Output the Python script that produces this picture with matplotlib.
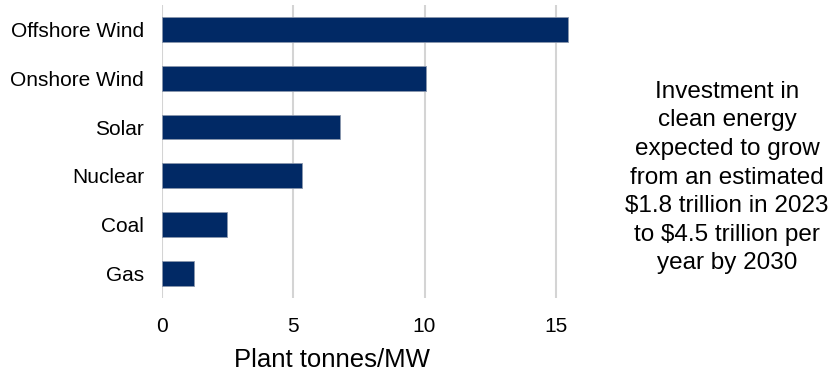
import matplotlib
matplotlib.use("Agg")
import matplotlib.pyplot as plt

plt.rcParams['font.family'] = ['Liberation Sans', 'DejaVu Sans']

categories = ["Offshore Wind", "Onshore Wind", "Solar", "Nuclear", "Coal", "Gas"]
values = [15.47, 10.07, 6.77, 5.32, 2.49, 1.22]
xticks = [0, 5, 10, 15]
xlabel = "Plant tonnes/MW"
note = ("Investment in\nclean energy\nexpected to grow\nfrom an estimated\n"
        "$1.8 trillion in 2023\nto $4.5 trillion per\nyear by 2030")

fig = plt.figure(figsize=(8.34, 3.73), dpi=100)
ax = fig.add_axes([162 / 834, 1 - 297.5 / 373, 420 / 834, 292.2 / 373])

pos = list(range(len(categories)))
ax.barh(pos, values, height=0.51, color="#012965", edgecolor="#8a97ad",
        linewidth=0.6, zorder=3)
ax.set_ylim(len(categories) - 0.5, -0.5)
ax.set_xlim(0, 16)
ax.set_xticks(xticks)
ax.set_xticklabels([str(t) for t in xticks])
ax.set_yticks(pos)
ax.set_yticklabels(categories)
ax.tick_params(axis="both", length=0, labelsize=15, colors="#000000")
ax.tick_params(axis="x", pad=14)
ax.tick_params(axis="y", pad=13)
ax.grid(axis="x", color="#d4d4d4", linewidth=1.5, zorder=0)
for s in ax.spines.values():
    s.set_visible(False)
ax.set_xlabel(xlabel, fontsize=18.5)
ax.xaxis.set_label_coords((332 - 162) / 420, (297.5 - 360) / 292.2)
ax.xaxis.label.set_va("center")

fig.text(727 / 834, 1 - 177.5 / 373, note, ha="center", va="center",
         fontsize=17.5, linespacing=1.39, color="#000000")

fig.savefig("out.png", dpi=100)
